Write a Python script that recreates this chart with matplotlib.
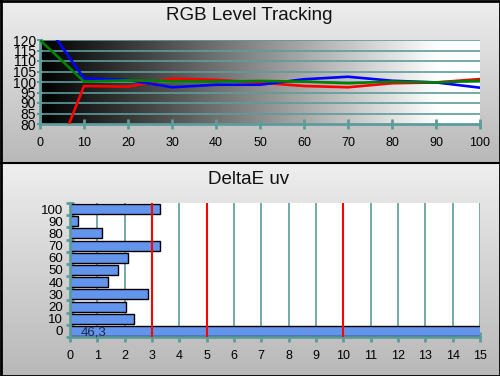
import numpy as np
import matplotlib
matplotlib.use('Agg')
from matplotlib import pyplot as plt

plt.rcParams['font.family'] = ['Liberation Sans', 'DejaVu Sans']

# RGB level tracking (stimulus %, relative level %)
levels = [0, 10, 20, 30, 40, 50, 60, 70, 80, 90, 100]
red = [45.0, 98.1, 97.8, 101.6, 101.0, 99.7, 98.1, 97.5, 99.4, 99.8, 101.4]
green = [120.0, 100.2, 100.8, 100.3, 100.2, 100.5, 100.2, 99.4, 100.2, 99.8, 100.6]
blue = [131.7, 101.7, 101.0, 97.5, 98.7, 98.7, 101.3, 102.5, 100.6, 99.8, 97.3]

# DeltaE uv per level
de_labels = ['0', '10', '20', '30', '40', '50', '60', '70', '80', '90', '100']
de_values = [46.3, 2.35, 2.06, 2.87, 1.40, 1.77, 2.13, 3.3, 1.18, 0.3, 3.3]
de_thresholds = [3, 5, 10]

TEAL = '#5e9c9c'
W, H = 500, 376
SPLIT = 163

fig = plt.figure(figsize=(5, 3.76), dpi=100)

# background: two vertical gray gradients, one per panel
bg = fig.add_axes([0, 0, 1, 1], zorder=-10)
col = np.empty(H)
col[:SPLIT] = np.linspace(0.93, 0.72, SPLIT)
col[SPLIT:] = np.linspace(0.93, 0.72, H - SPLIT)
img = np.repeat(col[:, None], W, axis=1)
bg.imshow(img, cmap='gray', vmin=0, vmax=1, extent=[0, W, H, 0], aspect='auto')
bg.plot([0, W], [SPLIT, SPLIT], color='black', lw=1.5)
bg.plot([0.5, W - 0.5, W - 0.5, 0.5, 0.5], [0.5, 0.5, H - 0.5, H - 0.5, 0.5], color='black', lw=2)
bg.set_xlim(0, W)
bg.set_ylim(H, 0)
bg.axis('off')

fig.text(0.499, 1 - 15 / H, 'RGB Level Tracking', ha='center', va='center', fontsize=13.5, color='#111111')
fig.text(0.498, 1 - 179 / H, 'DeltaE uv', ha='center', va='center', fontsize=13.5, color='#111111')

# top panel
ax1 = fig.add_axes([0.08, 1 - 124 / H, 0.88, 84 / H])
grad = np.clip(np.linspace(0, 1.1, 256), 0, 1)[None, :]
ax1.imshow(grad, cmap='gray', vmin=0, vmax=1, extent=[0, 100, 80, 120], aspect='auto', zorder=0)
for y in range(85, 121, 5):
    ax1.axhline(y, color=TEAL, lw=1.2, zorder=1)
ax1.plot(levels, red, color='#ff0000', lw=1.9, zorder=3)
ax1.plot(levels, blue, color='#0000ff', lw=1.9, zorder=3)
ax1.plot(levels, green, color='#008000', lw=1.9, zorder=4)
ax1.set_xlim(0, 100)
ax1.set_ylim(80, 120)
ax1.set_xticks(levels)
ax1.set_yticks(range(80, 121, 5))
ax1.tick_params(axis='x', direction='inout', length=7, width=2, color=TEAL, labelsize=9, pad=6)
ax1.tick_params(axis='y', direction='inout', length=4, width=1.5, color=TEAL, labelsize=10, pad=1)
for s in ['top', 'right']:
    ax1.spines[s].set_visible(False)
for s in ['left', 'bottom']:
    ax1.spines[s].set_color(TEAL)
    ax1.spines[s].set_linewidth(2)

# bottom panel
ax2 = fig.add_axes([0.14, 1 - 337 / H, 0.82, 134 / H])
ax2.set_facecolor('white')
idx = np.arange(len(de_labels))
for x in range(1, 16):
    ax2.axvline(x, color=TEAL, lw=1.2, zorder=1)
ax2.barh(idx, de_values, height=0.82, color='#6495ed', edgecolor='black', lw=1, zorder=2)
for t in de_thresholds:
    ax2.axvline(t, color='#ff0000', lw=1.5, zorder=3)
ax2.text(0.88, -0.17, '46,3', ha='center', va='center', fontsize=9.5, color='#1a2a4a', zorder=4)
ax2.set_xlim(0, 15)
ax2.set_ylim(-0.5, 10.5)
ax2.set_xticks(range(0, 16))
ax2.set_yticks(idx)
ax2.set_yticklabels(de_labels)
ax2.set_yticks(np.arange(-0.5, 11, 1), minor=True)
ax2.tick_params(axis='x', direction='inout', length=7, width=2, color=TEAL, labelsize=9, pad=6)
ax2.tick_params(axis='y', which='major', length=0, labelsize=9.5, pad=5)
ax2.tick_params(axis='y', which='minor', direction='inout', length=6, width=2, color=TEAL)
for s in ['top', 'right']:
    ax2.spines[s].set_visible(False)
for s in ['left', 'bottom']:
    ax2.spines[s].set_color(TEAL)
    ax2.spines[s].set_linewidth(2)

fig.savefig('out.png', dpi=100)
